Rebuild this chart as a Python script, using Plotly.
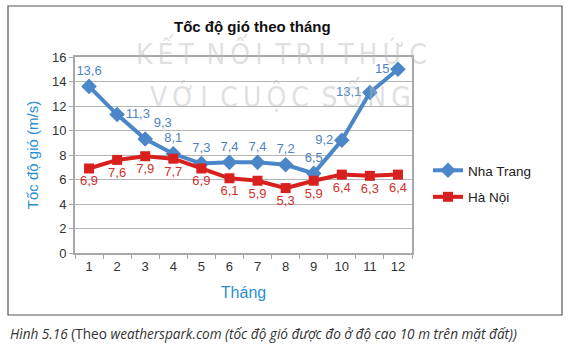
import plotly.graph_objects as go

months = ["1", "2", "3", "4", "5", "6", "7", "8", "9", "10", "11", "12"]
nha_trang = [13.6, 11.3, 9.3, 8.1, 7.3, 7.4, 7.4, 7.2, 6.5, 9.2, 13.1, 15]
ha_noi = [6.9, 7.6, 7.9, 7.7, 6.9, 6.1, 5.9, 5.3, 5.9, 6.4, 6.3, 6.4]

def fmt(v):
    return (("%g" % v)).replace(".", ",")

nt_pos = ["top center", "middle right", "top right", "top center", "top center", "top center",
          "top center", "top center", "top center", "middle left", "middle left", "middle left"]

W, H = 571, 352
L, R, T, B = 75, 412, 57, 253
pw, ph = R - L, B - T

def px(x):
    return (x - L) / pw

def py(y):
    return (B - y) / ph

fig = go.Figure()
fig.add_trace(go.Scatter(
    x=months, y=nha_trang, name="Nha Trang", mode="lines+markers+text",
    legendgroup="a", cliponaxis=False,
    line=dict(color="#4a86c8", width=4),
    marker=dict(symbol="diamond", size=12, color="#4a86c8"),
    text=[fmt(v) for v in nha_trang], textposition=nt_pos,
    textfont=dict(color="#4f83c2", size=13, family="Liberation Sans, Arial"),
))
fig.add_trace(go.Scatter(
    x=months, y=ha_noi, name="Hà Nội", mode="lines+markers+text",
    legendgroup="b", cliponaxis=False,
    line=dict(color="#d8211f", width=4),
    marker=dict(symbol="square", size=10, color="#d8211f"),
    text=[fmt(v) for v in ha_noi], textposition="bottom center",
    textfont=dict(color="#d2302c", size=13, family="Liberation Sans, Arial"),
))

fig.update_layout(
    width=W, height=H,
    margin=dict(l=L, r=W - R, t=T, b=H - B, autoexpand=False),
    paper_bgcolor="white", plot_bgcolor="white",
    font=dict(family="Liberation Sans, Arial", size=13, color="#333333"),
    showlegend=True,
    legend=dict(x=px(428), y=py(155), xanchor="left", yanchor="top",
                font=dict(size=13.5, color="#222222"), tracegroupgap=6,
                bgcolor="rgba(0,0,0,0)"),
    xaxis=dict(type="category", range=[-0.5, 11.5], showline=True, linecolor="#a8a8a8",
               linewidth=2, mirror=True, ticks="outside", tickson="boundaries",
               ticklen=4, tickcolor="#a8a8a8", showgrid=False, automargin=False,
               tickfont=dict(size=13, color="#333333"),
               title=dict(text="Tháng", font=dict(size=16, color="#2b8fd1"), standoff=14)),
    yaxis=dict(range=[0, 16], dtick=2, showline=True, linecolor="#a8a8a8", linewidth=2,
               mirror=True, ticks="outside", ticklen=4, tickcolor="#a8a8a8",
               gridcolor="#b5b5b5", gridwidth=1, zeroline=False, automargin=False,
               tickfont=dict(size=13, color="#333333"),
               title=dict(text="Tốc độ gió (m/s)", font=dict(size=15, color="#2b8fd1"), standoff=10)),
)

ts = "&#8201;"
ws = "&#8194;"
def spaced(s):
    return ws.join(ts.join(list(w)) for w in s.split(" "))

wm_font = dict(family="DejaVu Sans Condensed, DejaVu Sans", size=28, color="rgba(185,185,185,0.45)")
# watermark
fig.add_annotation(x=px(281), y=py(52), xref="paper", yref="paper", showarrow=False,
                   yanchor="middle", text=spaced("KẾT NỐI TRI THỨC"), font=wm_font)
fig.add_annotation(x=px(280), y=py(95), xref="paper", yref="paper", showarrow=False,
                   yanchor="middle", text=spaced("VỚI CUỘC SỐNG"), font=wm_font)

# title
fig.add_annotation(x=px(252), y=py(26), xref="paper", yref="paper", showarrow=False,
                   yanchor="middle", text="<b>Tốc độ gió theo tháng</b>",
                   font=dict(size=15, color="#111111"))

# caption
fig.add_annotation(x=px(8), y=py(333), xref="paper", yref="paper", showarrow=False,
                   xanchor="left", yanchor="middle",
                   text="<i>Hình 5.16</i> (Theo <i>weatherspark.com (tốc độ gió được đo ở độ cao 10 m trên mặt đất))</i>",
                   font=dict(family="Open Sans", size=13.6, color="#333333"))

# frame
fig.add_shape(type="rect", xref="paper", yref="paper",
              x0=px(8), x1=px(562), y0=py(315), y1=py(6),
              line=dict(color="#555555", width=1.2), layer="below")

fig.write_html("out.html")
